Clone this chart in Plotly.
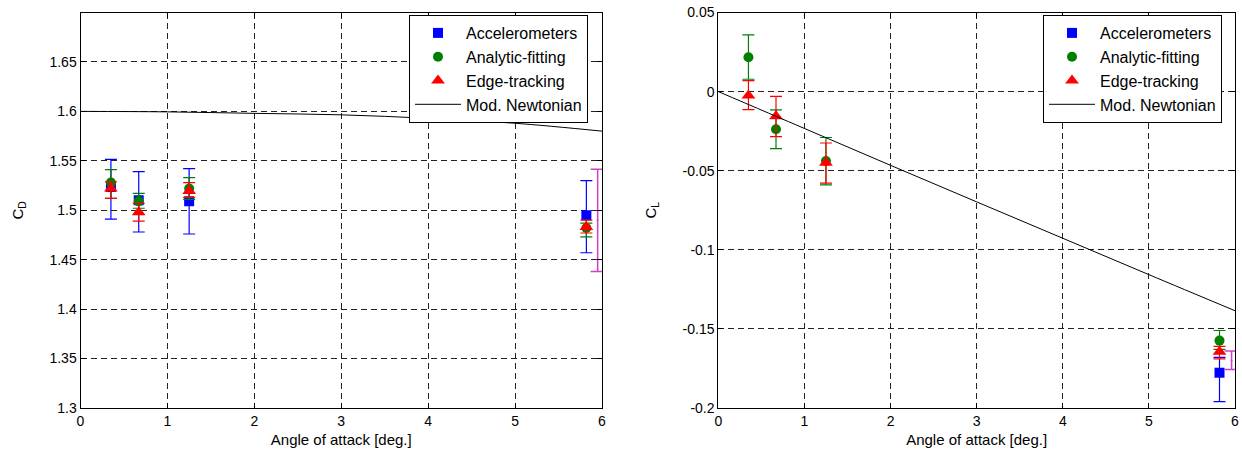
import plotly.graph_objects as go

# ---------------- data ----------------
alpha = [0.35, 0.67, 1.25, 5.82]

# Drag coefficient
cd_acc = [1.5235, 1.510, 1.509, 1.495]
cd_acc_lo = [1.491, 1.478, 1.476, 1.457]
cd_acc_hi = [1.5515, 1.539, 1.542, 1.530]
cd_fit = [1.528, 1.509, 1.522, 1.482]
cd_fit_lo = [1.512, 1.502, 1.511, 1.473]
cd_fit_hi = [1.541, 1.517, 1.533, 1.487]
cd_edge = [1.522, 1.498, 1.5195, 1.483]
cd_edge_lo = [1.512, 1.489, 1.513, 1.477]
cd_edge_hi = [1.5286, 1.507, 1.528, 1.490]
cd_extra_alpha = [5.95]
cd_extra = [1.490]
cd_extra_lo = [1.438]
cd_extra_hi = [1.5414]

# Lift coefficient
cl_acc = [None, None, None, -0.1777]
cl_acc_lo = [None, None, None, -0.196]
cl_acc_hi = [None, None, None, -0.168]
cl_fit = [0.0217, -0.0238, -0.0439, -0.1574]
cl_fit_lo = [0.0078, -0.036, -0.0589, -0.163]
cl_fit_hi = [0.0359, -0.0116, -0.029, -0.151]
cl_edge = [-0.0025, -0.0156, -0.045, -0.1644]
cl_edge_lo = [-0.0114, -0.0285, -0.0578, -0.169]
cl_edge_hi = [0.007, -0.003, -0.0325, -0.161]
cl_extra_alpha = [5.96]
cl_extra = [-0.170]
cl_extra_lo = [-0.1757]
cl_extra_hi = [-0.164]

# Modified Newtonian curves
newt_alpha = [0, 1, 2, 3, 4, 5, 6]
newt_cd = [1.600, 1.5995, 1.598, 1.5965, 1.593, 1.588, 1.580]
newt_cl = [0.0, -0.0233, -0.0466, -0.0697, -0.0927, -0.1157, -0.1385]

cd_ticks = [1.3, 1.35, 1.4, 1.45, 1.5, 1.55, 1.6, 1.65]
cd_ticktext = ["1.3", "1.35", "1.4", "1.45", "1.5", "1.55", "1.6", "1.65"]
cl_ticks = [-0.2, -0.15, -0.1, -0.05, 0, 0.05]
cl_ticktext = ["-0.2", "-0.15", "-0.1", "-0.05", "0", "0.05"]
x_ticks = [0, 1, 2, 3, 4, 5, 6]

FONT = "Liberation Sans, Arial, sans-serif"


def errs(v, lo, hi):
    plus = [None if a is None else h - a for a, h in zip(v, hi)]
    minus = [None if a is None else a - l for a, l in zip(v, lo)]
    return plus, minus


fig = go.Figure()


def add_series(x, v, lo, hi, name, color, symbol, size, xa, ya, legend, showlegend=True, cap=6, thick=1.2):
    p, m = errs(v, lo, hi)
    fig.add_trace(go.Scatter(
        x=x, y=v, mode="markers", name=name,
        marker=dict(color=color, symbol=symbol, size=size, line=dict(width=0)),
        error_y=dict(type="data", symmetric=False, array=p, arrayminus=m,
                     color=color, thickness=thick, width=cap),
        xaxis=xa, yaxis=ya, legend=legend, showlegend=showlegend,
    ))


MAG = "#cc40cc"

# Left panel
add_series(alpha, cd_acc, cd_acc_lo, cd_acc_hi, "Accelerometers", "#0000ff", "square", 10, "x", "y", "legend")
add_series(alpha, cd_fit, cd_fit_lo, cd_fit_hi, "Analytic-fitting", "#008000", "circle", 10, "x", "y", "legend")
add_series(alpha, cd_edge, cd_edge_lo, cd_edge_hi, "Edge-tracking", "#ff0000", "triangle-up", 12, "x", "y", "legend")
add_series(cd_extra_alpha, cd_extra, cd_extra_lo, cd_extra_hi, "extra", MAG, "circle", 2, "x", "y", "legend", False, 7, 1.5)
fig.add_trace(go.Scatter(x=newt_alpha, y=newt_cd, mode="lines", name="Mod. Newtonian",
                         line=dict(color="black", width=1, shape="spline"), xaxis="x", yaxis="y", legend="legend"))

# Right panel
add_series(alpha, cl_acc, cl_acc_lo, cl_acc_hi, "Accelerometers", "#0000ff", "square", 10, "x2", "y2", "legend2")
add_series(alpha, cl_fit, cl_fit_lo, cl_fit_hi, "Analytic-fitting", "#008000", "circle", 10, "x2", "y2", "legend2")
add_series(alpha, cl_edge, cl_edge_lo, cl_edge_hi, "Edge-tracking", "#ff0000", "triangle-up", 12, "x2", "y2", "legend2")
add_series(cl_extra_alpha, cl_extra, cl_extra_lo, cl_extra_hi, "extra", MAG, "circle", 2, "x2", "y2", "legend2", False, 7, 1.5)
fig.add_trace(go.Scatter(x=newt_alpha, y=newt_cl, mode="lines", name="Mod. Newtonian",
                         line=dict(color="black", width=1, shape="spline"), xaxis="x2", yaxis="y2", legend="legend2"))

W, H = 1242, 457
ytop = 1 - 12.5 / H
ybot = 1 - 408 / H

axis_common = dict(
    showline=True, linecolor="black", linewidth=1, mirror="ticks",
    ticks="inside", ticklen=5, tickcolor="black", tickwidth=1,
    showgrid=True, gridcolor="#222222", gridwidth=1, griddash="6px,4px",
    zeroline=False, automargin=False,
    tickfont=dict(family=FONT, size=14, color="black"),
)

legend_common = dict(
    xanchor="left", yanchor="top",
    bgcolor="white", bordercolor="black", borderwidth=1,
    font=dict(family=FONT, size=16, color="black"), itemwidth=46, tracegroupgap=0,
)

fig.update_layout(
    width=W, height=H,
    template="none",
    paper_bgcolor="white", plot_bgcolor="white",
    margin=dict(l=0, r=0, t=0, b=0),
    font=dict(family=FONT, size=14, color="black"),
    xaxis=dict(domain=[80.5 / W, 602 / W], range=[0, 6], tickvals=x_ticks, anchor="y",
               title=dict(text="Angle of attack [deg.]", font=dict(size=15), standoff=6), **axis_common),
    yaxis=dict(domain=[ybot, ytop], range=[1.3, 1.7], tickvals=cd_ticks, ticktext=cd_ticktext, anchor="x",
               title=dict(text="C<sub>D</sub>", font=dict(size=15), standoff=22), **axis_common),
    xaxis2=dict(domain=[718.3 / W, 1235 / W], range=[0, 6], tickvals=x_ticks, anchor="y2",
                title=dict(text="Angle of attack [deg.]", font=dict(size=15), standoff=6), **axis_common),
    yaxis2=dict(domain=[ybot, ytop], range=[-0.2, 0.05], tickvals=cl_ticks, ticktext=cl_ticktext, anchor="x2",
                title=dict(text="C<sub>L</sub>", font=dict(size=15), standoff=22), **axis_common),
    legend=dict(x=409 / W, y=1 - 15 / H, **legend_common),
    legend2=dict(x=1043 / W, y=1 - 15 / H, **legend_common),
    showlegend=True,
)

fig.write_html("out.html", config={"displayModeBar": False},
               post_script="document.body.style.margin='0';document.body.style.overflow='hidden';")
